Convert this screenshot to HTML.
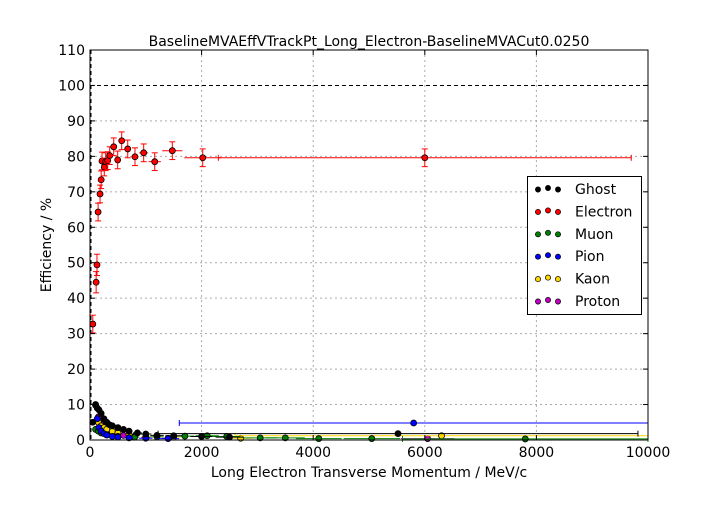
<!DOCTYPE html>
<html><head><meta charset="utf-8"><style>
html,body{margin:0;padding:0;background:#fff;}
svg text{font-family:"DejaVu Sans","Liberation Sans",sans-serif;}
</style></head><body>
<svg id="chart" width="720" height="504" viewBox="0 0 720 504" xmlns="http://www.w3.org/2000/svg">
<rect x="0" y="0" width="720" height="504" fill="#fff"/>
<text x="369" y="46" font-size="14" text-anchor="middle">BaselineMVAEffVTrackPt_Long_Electron-BaselineMVACut0.0250</text>
<g id="grid"></g>
<g id="series"></g>
<rect x="90" y="50" width="558" height="390" fill="none" stroke="#000" stroke-width="1"/>
<g id="ticks"></g>
<text x="369" y="477" font-size="14" text-anchor="middle">Long Electron Transverse Momentum / MeV/c</text>
<text x="51" y="245" font-size="14" text-anchor="middle" transform="rotate(-90 51 245)">Efficiency / %</text>
<g id="legend">
<rect x="527.5" y="176.5" width="114" height="138" fill="#fff" stroke="#000"/>
</g>
</svg>
<script>
const xTicks=[0,2000,4000,6000,8000,10000];
const yTicks=[0,10,20,30,40,50,60,70,80,90,100,110];
const seriesNames=["Ghost","Electron","Muon","Pion","Kaon","Proton"];
const seriesColors=["#000000","#ff0000","#008000","#0000ff","#ffd700","#bf00bf"];
const elecX=[50,110,125,145,180,200,215,256,281,317,353,425,496,568,676,806,962,1160,1475,2020,6000];
const elecY=[32.7,44.5,49.4,64.3,69.4,73.4,78.7,77,78.5,78.8,80.2,82.7,79,84.4,82.1,79.9,81,78.5,81.6,79.6,79.6];
const elecXErr=[20,10,10,10,15,10,10,15,15,15,20,30,30,40,50,60,80,110,180,330,3700];
const elecYErr=[2.5,3,3,2.5,2.5,2.5,2.5,2.5,2.5,2.5,2.5,2.5,2.5,2.5,2.5,2.5,2.5,2.5,2.5,2.5,2.5];
const ghostX=[50,100,130,160,200,250,300,350,400,500,600,700,850,1000,1200,1500,2000,2500,5520];
const ghostY=[5,9.8,9,8.5,7.5,6,5,4.3,4,3.5,3,2.5,2,1.7,1.3,1.2,1,0.8,1.8];
const ghostXErr=[5,8,10,12,15,20,25,25,30,40,50,60,80,100,120,150,200,250,4300];
const muonX=[100,150,200,300,500,800,1200,1700,2100,2450,3050,3500,4100,5050,7800];
const muonY=[3,2.5,2,1.5,1,0.8,0.9,1.1,1.2,1.0,0.6,0.6,0.4,0.4,0.3];
const pionX=[100,130,160,200,250,300,400,500,700,1000,1400,5800];
const pionY=[10,6,3.5,2.5,1.8,1.4,1,0.8,0.6,0.5,0.4,4.8];
const pionXErr=[10,10,10,15,20,25,40,50,80,120,200,4200];
const kaonX=[150,200,250,300,400,500,700,1000,1500,2700,6300];
const kaonY=[5,4,3.5,3,2.4,2,1.5,1,0.8,0.5,1.2];
const protonX=[150,200,250,300,400,500,600,800,1000,1400,6050];
const protonY=[6.5,4.5,3,2.5,2,1.6,1.3,1,0.7,0.5,0.4];
const NS="http://www.w3.org/2000/svg";
const X=v=>90+v/10000*558, Y=v=>440-v/110*390;
function mk(tag,attrs,parent){const e=document.createElementNS(NS,tag);for(const k in attrs)e.setAttribute(k,attrs[k]);parent.appendChild(e);return e;}
const grid=document.getElementById('grid'),ticks=document.getElementById('ticks'),ser=document.getElementById('series');
xTicks.forEach(t=>{
 if(t>0&&t<10000){const g=mk('line',{x1:X(t),x2:X(t),y1:50,y2:440,stroke:'#aaa','stroke-dasharray':'2,3'},grid);
 
 }
 const l=mk('text',{x:X(t),y:457,'font-size':14,'text-anchor':'middle'},ticks);l.textContent=t;
 
 
 mk('line',{x1:X(t),x2:X(t),y1:440,y2:435,stroke:'#000'},ticks);mk('line',{x1:X(t),x2:X(t),y1:50,y2:55,stroke:'#000'},ticks);
});
yTicks.forEach(t=>{
 if(t>0&&t<110&&t!==100){const g=mk('line',{x1:90,x2:648,y1:Y(t),y2:Y(t),stroke:'#aaa','stroke-dasharray':'2,3'},grid);
 
 }
 const l=mk('text',{x:85,y:Y(t)+5,'font-size':14,'text-anchor':'end'},ticks);l.textContent=t;
 
 
 mk('line',{x1:90,x2:95,y1:Y(t),y2:Y(t),stroke:'#000'},ticks);mk('line',{x1:648,x2:643,y1:Y(t),y2:Y(t),stroke:'#000'},ticks);
});
const ref=mk('line',{x1:90,x2:648,y1:Y(100),y2:Y(100),stroke:'#000','stroke-dasharray':'4,3'},grid);


const vref=mk('line',{x1:91,x2:91,y1:50,y2:440,stroke:'#000','stroke-dasharray':'4,3'},grid);


function draw(xs,ys,xe,ye,col,name){
 const g=mk('g',{},ser);
 
 
 xs.forEach((x,i)=>{
  const cx=X(x),cy=Y(ys[i]);
  const ex=xe?xe[i]:x*0.08, ey=ye?ye[i]:Math.min(0.6,ys[i]*0.1);
  mk('line',{x1:X(Math.max(0,x-ex)),x2:X(Math.min(10000,x+ex)),y1:cy,y2:cy,stroke:col,'stroke-width':1},g);
  mk('line',{x1:cx,x2:cx,y1:Y(ys[i]+ey),y2:Y(Math.max(0,ys[i]-ey)),stroke:col,'stroke-width':1},g);
  if(ey>1){mk('line',{x1:cx-3,x2:cx+3,y1:Y(ys[i]+ey),y2:Y(ys[i]+ey),stroke:col},g);mk('line',{x1:cx-3,x2:cx+3,y1:Y(ys[i]-ey),y2:Y(ys[i]-ey),stroke:col},g);}
  if(ex>1000){mk('line',{x1:X(x+ex),x2:X(x+ex),y1:cy-3,y2:cy+3,stroke:col},g);mk('line',{x1:X(x-ex),x2:X(x-ex),y1:cy-3,y2:cy+3,stroke:col},g);}
  const p=mk('circle',{cx:cx,cy:cy,r:3,fill:col,stroke:'#000','stroke-width':0.8},g);
  
  
 });
}
draw(protonX,protonY,null,null,seriesColors[5],'proton');
draw(kaonX,kaonY,kaonX.map((x,i)=>i===kaonX.length-1?3700:x*0.08),null,seriesColors[4],'kaon');
draw(muonX,muonY,muonX.map((x,i)=>i===muonX.length-1?2200:x*0.1),null,seriesColors[2],'muon');
draw(pionX,pionY,pionXErr,null,seriesColors[3],'pion');
draw(ghostX,ghostY,ghostXErr,null,seriesColors[0],'ghost');
draw(elecX,elecY,elecXErr,elecYErr,seriesColors[1],'electron');
const leg=document.getElementById('legend');
seriesNames.forEach((n,i)=>{
 const y=189+i*22.4;
 const g=mk('g',{},leg);
 
 
 [538,548,558].forEach((x,j)=>mk('circle',{cx:x,cy:y+(j===1?-1:0.5),r:2.6,fill:seriesColors[i],stroke:'#000','stroke-width':0.7},g));
 const t=mk('text',{x:575,y:y+5,'font-size':14},g);t.textContent=n;
});
</script>
</body></html>
